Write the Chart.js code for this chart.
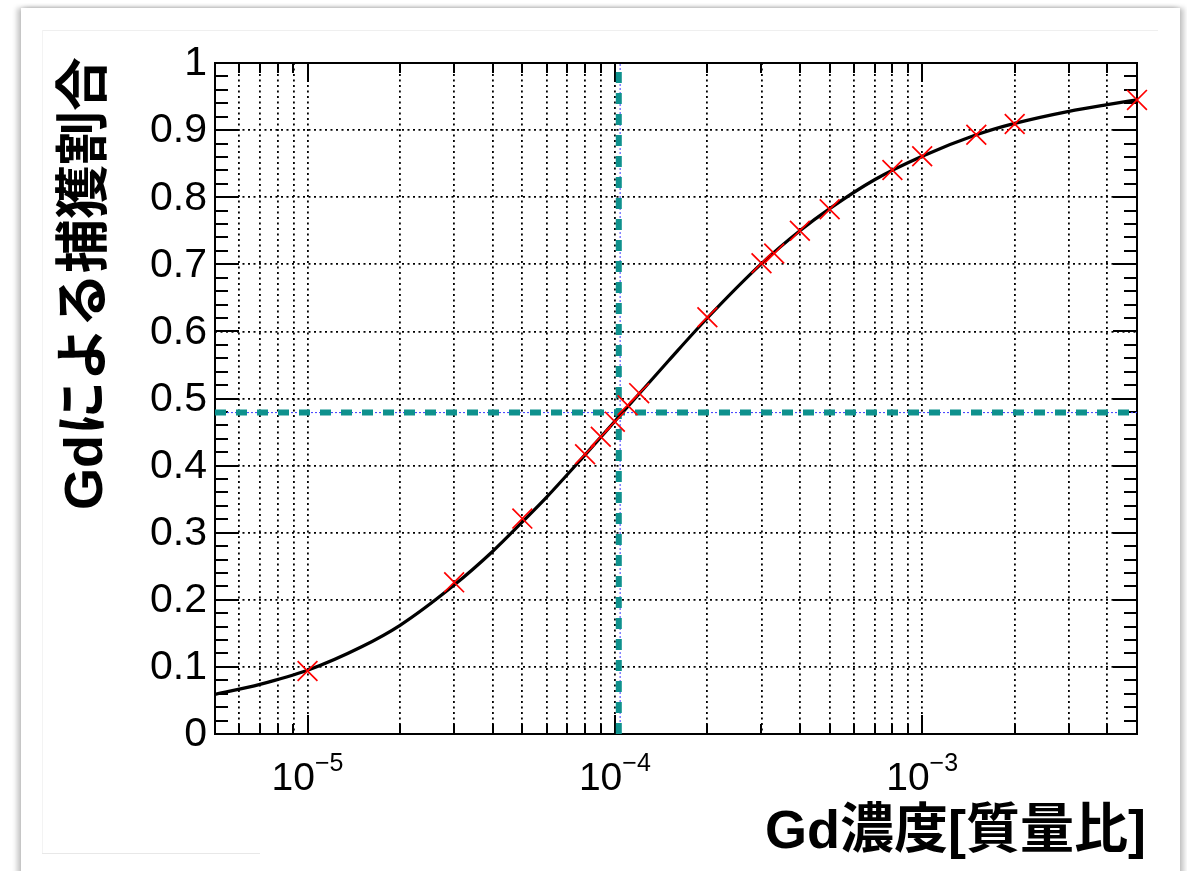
<!DOCTYPE html>
<html>
<head>
<meta charset="utf-8">
<script src="https://cdn.jsdelivr.net/npm/chart.js@4.4.1/dist/chart.umd.min.js"></script>
<style>
  html, body { margin: 0; padding: 0; background: #fff; overflow: hidden; }
  .card {
    position: absolute; left: 21px; top: 8px; width: 1159px; height: 900px;
    background: #fff;
    box-shadow: -4px 0 5px rgba(0,0,0,0.22), 4px 0 5px rgba(0,0,0,0.22), 0 -1px 3px rgba(0,0,0,0.06);
  }
  .inner-top { position: absolute; left: 42px; top: 30px; width: 1116px; height: 0; border-top: 1px solid #efefef; }
  .inner-left { position: absolute; left: 42px; top: 30px; width: 0; height: 823px; border-left: 1px solid #f3f3f3; }
  .inner-bottom { position: absolute; left: 42px; top: 853px; width: 218px; height: 0; border-top: 1px solid #e8e8e8; }
  #chart { position: absolute; left: 0; top: 0; }
</style>
</head>
<body>
<div class="card"></div>
<div class="inner-top"></div>
<div class="inner-left"></div>
<div class="inner-bottom"></div>
<canvas id="chart" width="1187" height="871"></canvas>
<script>
// measured capture fractions (red crosses)
const markerX = [1e-5, 3e-5, 5e-5, 8e-5, 9e-5, 1e-4, 1.1e-4, 1.2e-4, 2e-4, 3e-4, 3.3e-4, 4e-4, 5e-4, 8e-4, 1e-3, 1.5e-3, 2e-3, 5e-3];
const markerY = [0.094, 0.226, 0.321, 0.417, 0.443, 0.4655, 0.490, 0.508, 0.621, 0.7015, 0.716, 0.750, 0.782, 0.8405, 0.861, 0.893, 0.909, 0.945];

// fit curve
const curveX = [5e-6, 7e-6, 1e-5, 1.5e-5, 2e-5, 3e-5, 4e-5, 5e-5, 6e-5, 8e-5, 1e-4, 1.2e-4, 1.5e-4, 2e-4, 3e-4, 4e-4, 5e-4, 7e-4, 1e-3, 1.5e-3, 2e-3, 3e-3, 4e-3, 5e-3];
const curveY = [0.059, 0.074, 0.095, 0.130, 0.162, 0.222, 0.272, 0.316, 0.353, 0.416, 0.466, 0.507, 0.557, 0.620, 0.701, 0.750, 0.783, 0.826, 0.861, 0.893, 0.910, 0.928, 0.938, 0.945];

// 50% reference lines
const refX = 1.03e-4;
const refY = 0.479;

const xMin = 5e-6, xMax = 5e-3;
const xMajorTicks = [1e-5, 1e-4, 1e-3];
const xMajorExp = ["\u22125", "\u22124", "\u22123"];
const yTicks = [0, 0.1, 0.2, 0.3, 0.4, 0.5, 0.6, 0.7, 0.8, 0.9, 1];
const yTickLabels = ["0", "0.1", "0.2", "0.3", "0.4", "0.5", "0.6", "0.7", "0.8", "0.9", "1"];

const yTitle = "Gdによる捕獲割合";
const xTitle = "Gd濃度[質量比]";

// every 1..9 x 10^n inside the range, for the log grid
const xGridTicks = [];
for (let e = -6; e <= -3; e++) {
    for (let m = 1; m <= 9; m++) {
        const v = m * Math.pow(10, e);
        if (v >= xMin * 0.999 && v <= xMax * 1.001) xGridTicks.push(v);
    }
}

const LATIN = "'Liberation Sans', Arial, sans-serif";
const TITLE_FONT = "bold 54px 'Liberation Sans', 'Noto Sans CJK JP', sans-serif";

const rootFrame = {
    id: "rootFrame",
    beforeDatasetsDraw(chart) {
        const { ctx, chartArea: a, scales: { x, y } } = chart;
        ctx.save();
        ctx.strokeStyle = "#000";
        ctx.lineWidth = 2;
        ctx.beginPath();
        for (let i = 0; i <= 50; i++) {
            const py = Math.round(y.getPixelForValue(i / 50));
            const len = i % 5 === 0 ? 24 : 13;
            ctx.moveTo(a.left, py); ctx.lineTo(a.left + len, py);
            ctx.moveTo(a.right, py); ctx.lineTo(a.right - len, py);
        }
        for (const v of xGridTicks) {
            const px = Math.round(x.getPixelForValue(v));
            const major = xMajorTicks.some(t => Math.abs(t - v) / t < 1e-6);
            const len = major ? 19 : 10;
            ctx.moveTo(px, a.bottom); ctx.lineTo(px, a.bottom - len);
            ctx.moveTo(px, a.top); ctx.lineTo(px, a.top + len);
        }
        ctx.stroke();
        ctx.strokeRect(a.left, a.top, a.right - a.left, a.bottom - a.top);
        ctx.restore();
    },
    afterDraw(chart) {
        const { ctx, chartArea: a, scales: { x, y } } = chart;
        ctx.save();
        ctx.fillStyle = "#000";

        // y tick labels
        ctx.font = "41px " + LATIN;
        ctx.textAlign = "right";
        ctx.textBaseline = "middle";
        yTicks.forEach((v, i) => {
            ctx.fillText(yTickLabels[i], a.left - 8, y.getPixelForValue(v) + 1);
        });

        // x tick labels 10^n
        ctx.textBaseline = "alphabetic";
        ctx.textAlign = "left";
        xMajorTicks.forEach((v, i) => {
            const px = x.getPixelForValue(v);
            ctx.font = "39px " + LATIN;
            const wBase = ctx.measureText("10").width;
            ctx.font = "25px " + LATIN;
            const wExp = ctx.measureText(xMajorExp[i]).width;
            const left = px - (wBase + wExp) / 2;
            ctx.font = "39px " + LATIN;
            ctx.fillText("10", left, a.bottom + 56);
            ctx.font = "25px " + LATIN;
            ctx.fillText(xMajorExp[i], left + wBase, a.bottom + 37);
        });

        // axis titles
        ctx.font = TITLE_FONT;
        ctx.textAlign = "right";
        ctx.fillText(xTitle, a.right + 9, a.bottom + 114);

        ctx.translate(102, a.top - 6);
        ctx.rotate(-Math.PI / 2);
        ctx.fillText(yTitle, 0, 0);
        ctx.restore();
    }
};

const ctx = document.getElementById("chart");
new Chart(ctx, {
    type: "scatter",
    data: {
        datasets: [
            {
                label: "data",
                data: markerX.map((v, i) => ({ x: v, y: markerY[i] })),
                pointStyle: "crossRot",
                pointRadius: 14,
                pointBorderWidth: 1.7,
                pointBorderColor: "#ff0000",
                pointBackgroundColor: "#ff0000",
                showLine: false,
                clip: false,
                order: 0,
            },
            {
                label: "fit",
                data: curveX.map((v, i) => ({ x: v, y: curveY[i] })),
                showLine: true,
                borderColor: "#000",
                borderWidth: 3.2,
                pointRadius: 0,
                cubicInterpolationMode: "monotone",
                order: 1,
            },
            {
                label: "x50",
                data: [{ x: refX, y: 0 }, { x: refX, y: 1 }],
                showLine: true,
                borderColor: "#0e918d",
                borderWidth: 6,
                borderDash: [11, 10],
                borderCapStyle: "butt",
                pointRadius: 0,
                order: 2,
            },
            {
                label: "y50",
                data: [{ x: xMin, y: refY }, { x: xMax, y: refY }],
                showLine: true,
                borderColor: "#0e918d",
                borderWidth: 6,
                borderDash: [11, 10],
                borderCapStyle: "butt",
                pointRadius: 0,
                order: 2,
            },
            {
                label: "x50 thin",
                data: [{ x: refX * 1.01, y: 0 }, { x: refX * 1.01, y: 1 }],
                showLine: true,
                borderColor: "#3a3aff",
                borderWidth: 1,
                borderDash: [2, 2],
                pointRadius: 0,
                order: 3,
            },
            {
                label: "y50 thin",
                data: [{ x: xMin, y: refY }, { x: xMax, y: refY }],
                showLine: true,
                borderColor: "#3a3aff",
                borderWidth: 1,
                borderDash: [2, 2],
                pointRadius: 0,
                order: 3,
            },
        ],
    },
    options: {
        responsive: false,
        animation: false,
        devicePixelRatio: 1,
        layout: { padding: { left: 215, top: 63, right: 50, bottom: 137 } },
        plugins: { legend: { display: false }, tooltip: { enabled: false } },
        scales: {
            x: {
                type: "logarithmic",
                min: xMin,
                max: xMax,
                afterBuildTicks: (scale) => {
                    scale.ticks = xGridTicks.map(v => ({ value: v }));
                },
                ticks: { display: false },
                grid: { color: "#000", lineWidth: 1.8, drawTicks: false },
                border: { display: false, dash: [2, 3.5] },
            },
            y: {
                min: 0,
                max: 1,
                afterBuildTicks: (scale) => {
                    scale.ticks = yTicks.map(v => ({ value: v }));
                },
                ticks: { display: false },
                grid: { color: "#000", lineWidth: 1.8, drawTicks: false },
                border: { display: false, dash: [2, 3.5] },
            },
        },
    },
    plugins: [rootFrame],
});
</script>
</body>
</html>
